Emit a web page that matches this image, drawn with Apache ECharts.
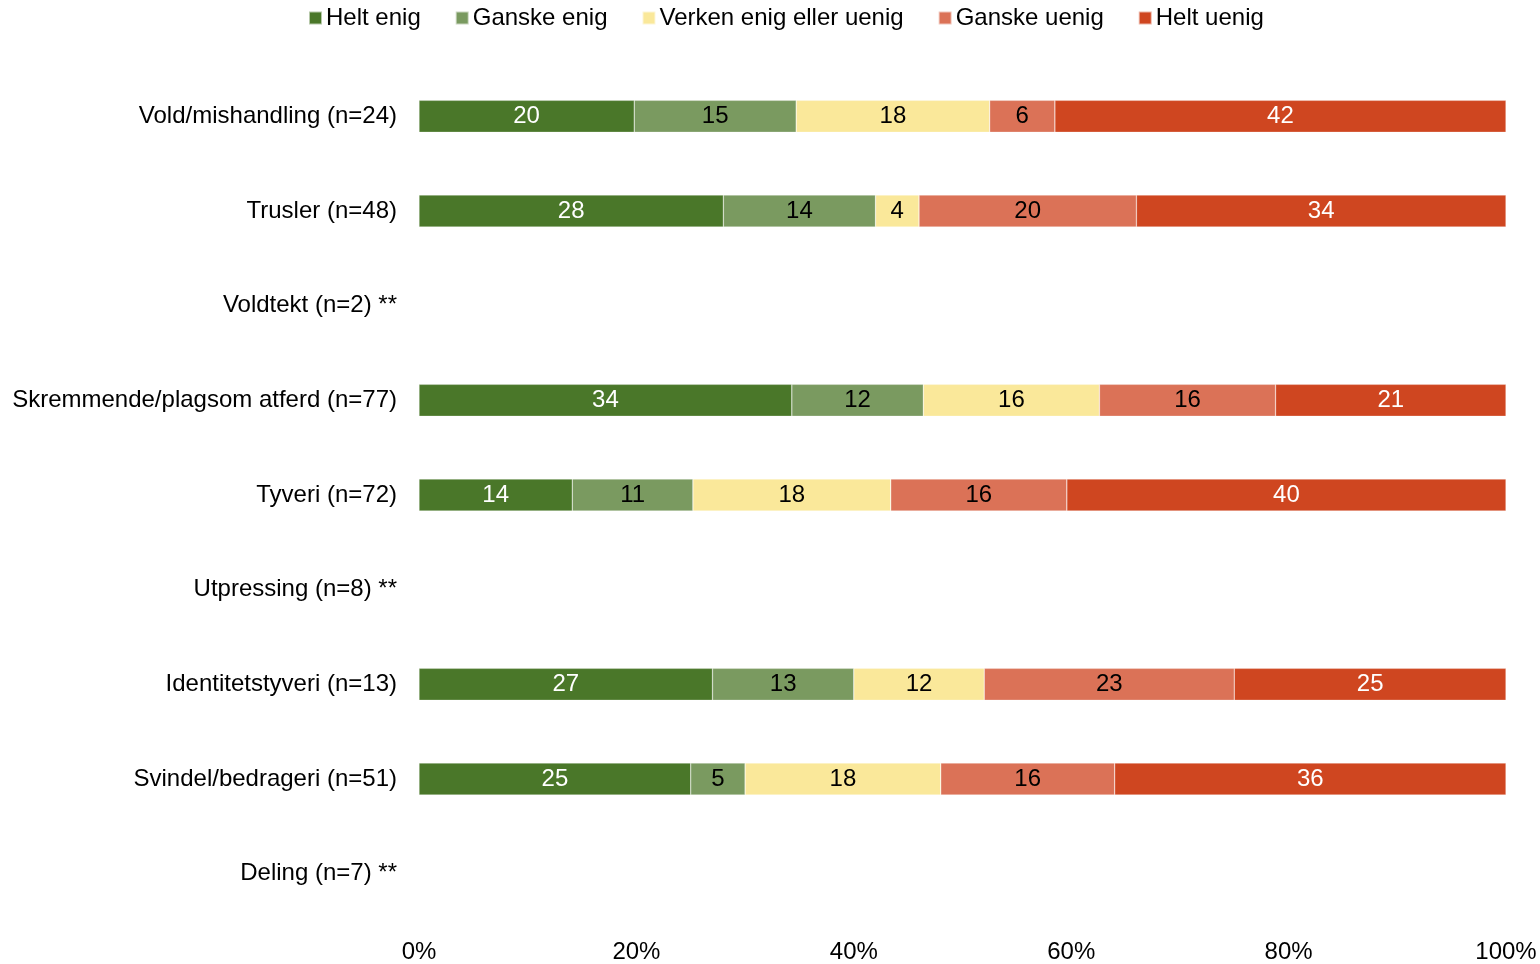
<!DOCTYPE html>
<html>
<head>
<meta charset="utf-8">
<script src="https://cdn.jsdelivr.net/npm/echarts@6/dist/echarts.min.js"></script>
<style>
html,body{margin:0;padding:0;background:#fff;}
#chart{width:1540px;height:964px;}
</style>
</head>
<body>
<div id="chart"></div>
<script>
const categories = [
  "Vold/mishandling (n=24)",
  "Trusler (n=48)",
  "Voldtekt (n=2) **",
  "Skremmende/plagsom atferd (n=77)",
  "Tyveri (n=72)",
  "Utpressing (n=8) **",
  "Identitetstyveri (n=13)",
  "Svindel/bedrageri (n=51)",
  "Deling (n=7) **"
];
const seriesNames = ["Helt enig", "Ganske enig", "Verken enig eller uenig", "Ganske uenig", "Helt uenig"];
const heltEnig    = [19.8, 28, null, 34.3, 14.1, null, 27, 25, null];
const ganskeEnig  = [14.9, 14, null, 12.1, 11.1, null, 13, 5, null];
const verken      = [17.8, 4, null, 16.2, 18.2, null, 12, 18, null];
const ganskeUenig = [6.0, 20, null, 16.2, 16.2, null, 23, 16, null];
const heltUenig   = [41.5, 34, null, 21.2, 40.4, null, 25, 36, null];
const xTicks = [0, 20, 40, 60, 80, 100];

const colors = ["#4A7729", "#7A9A60", "#FAE89A", "#DB7257", "#CF4620"];
const labelColors = ["#fff", "#000", "#000", "#000", "#fff"];
const values = [heltEnig, ganskeEnig, verken, ganskeUenig, heltUenig];
const FONT = "Liberation Sans, Arial, sans-serif";
const FS = 24;

const chart = echarts.init(document.getElementById('chart'));
chart.setOption({
  animation: false,
  textStyle: { fontFamily: FONT },
  legend: {
    data: seriesNames,
    top: 1,
    left: 303,
    itemWidth: 13,
    itemHeight: 13,
    itemGap: 34,
    icon: 'rect',
    textStyle: { fontSize: FS, color: '#000', fontFamily: FONT, padding: [0, 0, 0, -1] }
  },
  grid: { left: 419, right: 34, top: 69, bottom: 42, containLabel: false },
  xAxis: {
    type: 'value',
    min: 0, max: 100, interval: 20,
    axisLine: { show: false },
    axisTick: { show: false },
    splitLine: { show: false },
    axisLabel: { formatter: v => xTicks.includes(v) ? v + '%' : '', fontSize: FS, color: '#000', margin: 19, fontFamily: FONT }
  },
  yAxis: {
    type: 'category',
    data: categories,
    inverse: true,
    axisLine: { show: false },
    axisTick: { show: false },
    axisLabel: { fontSize: FS, color: '#000', margin: 22, fontFamily: FONT }
  },
  series: seriesNames.map((name, i) => ({
    name: name,
    type: 'bar',
    stack: 'total',
    barWidth: 32,
    data: values[i],
    itemStyle: { color: colors[i], borderColor: 'rgba(255,255,255,0.6)', borderWidth: 0.5 },
    label: {
      show: true,
      position: 'inside',
      color: labelColors[i],
      fontSize: FS,
      fontFamily: FONT,
      formatter: p => (p.value == null ? '' : String(Math.round(p.value)))
    }
  }))
});
</script>
</body>
</html>
